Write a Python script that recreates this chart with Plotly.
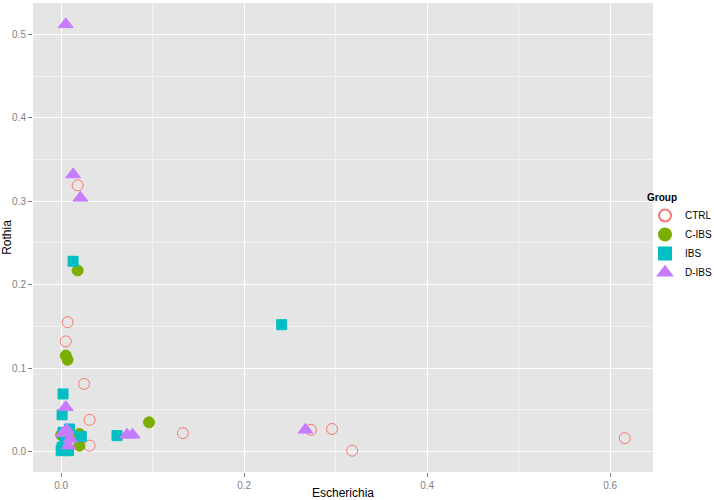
import plotly.graph_objects as go

# values
ctrl_x = [0.018, 0.007, 0.005, 0.025, 0.031, 0.031, 0.133, 0.273, 0.296, 0.318, 0.616, 0.003, 0.010, 0.001]
ctrl_y = [0.319, 0.155, 0.132, 0.081, 0.038, 0.007, 0.022, 0.026, 0.027, 0.001, 0.016, 0.006, 0.012, 0.020]

cibs_x = [0.018, 0.005, 0.007, 0.096, 0.020, 0.020, 0.000, 0.001, 0.018]
cibs_y = [0.217, 0.115, 0.110, 0.035, 0.021, 0.007, 0.020, 0.005, 0.016]

ibs_x = [0.013, 0.241, 0.002, 0.001, 0.061, 0.002, 0.009, 0.022, 0.001, 0.008, 0.004, 0.000]
ibs_y = [0.228, 0.152, 0.069, 0.044, 0.019, 0.023, 0.027, 0.018, 0.005, 0.001, 0.012, 0.001]

dibs_x = [0.005, 0.013, 0.021, 0.005, 0.267, 0.072, 0.078, 0.008, 0.002, 0.006, 0.010]
dibs_y = [0.512, 0.332, 0.304, 0.053, 0.026, 0.020, 0.020, 0.007, 0.022, 0.026, 0.015]

groups = [
    ("CTRL", ctrl_x, ctrl_y, "circle-open", "#F8766D", 11),
    ("C-IBS", cibs_x, cibs_y, "circle", "#7CAE00", 11),
    ("IBS", ibs_x, ibs_y, "square", "#00BFC4", 10),
    ("D-IBS", dibs_x, dibs_y, "triangle-up", "#C77CFF", 13),
]

fig = go.Figure()

for name, xs, ys, sym, col, sz in groups:
    fig.add_trace(go.Scatter(
        name=name,
        x=xs,
        y=ys,
        mode="markers",
        marker={'symbol': sym, 'color': col, 'size': sz,
                'line': {'color': col, 'width': 1}},
    ))

# ggplot style expansion of 5% on each side
all_x = ctrl_x + cibs_x + ibs_x + dibs_x
all_y = ctrl_y + cibs_y + ibs_y + dibs_y
dx = (max(all_x) - min(all_x)) * 0.05
dy = (max(all_y) - min(all_y)) * 0.05

axis_style = dict(
    automargin=False,
    showgrid=True,
    gridcolor="white",
    gridwidth=1.2,
    zeroline=False,
    showline=False,
    ticks="outside",
    ticklen=4,
    tickcolor="#7F7F7F",
    tickfont={'size': 10, 'color': "#7F7F7F"},
    minor={'showgrid': True, 'gridcolor': "#F2F2F2", 'gridwidth': 0.6},
)

fig.update_xaxes(
    title={'text': "Escherichia", 'font': {'size': 12, 'color': "black"}, 'standoff': 2},
    range=[min(all_x) - dx, max(all_x) + dx],
    dtick=0.2, tickformat=".1f",
    **axis_style
)
fig.update_xaxes(minor_dtick=0.1)
fig.update_yaxes(
    title={'text': "Rothia", 'font': {'size': 12, 'color': "black"}, 'standoff': 4},
    range=[min(all_y) - dy, max(all_y) + dy],
    dtick=0.1, tickformat=".1f",
    **axis_style
)
fig.update_yaxes(minor_dtick=0.05)

fig.update_layout(
    width=714,
    height=500,
    autosize=False,
    template="none",
    font={'family': "Liberation Sans, Arial, sans-serif", 'color': "black"},
    paper_bgcolor="white",
    plot_bgcolor="#E5E5E5",
    margin={'l': 33, 't': 3, 'b': 28, 'r': 61, 'pad': 0, 'autoexpand': False},
    showlegend=True,
    legend={
        'title': {'text': "<b>Group</b>", 'font': {'size': 10}},
        'font': {'size': 10},
        'xref': "container",
        'x': 645 / 714, 'xanchor': "left",
        'y': 0.5, 'yanchor': "middle",
        'itemsizing': "constant",
        'itemwidth': 30,
        'tracegroupgap': 0,
        'bgcolor': "rgba(0,0,0,0)",
    },
)

# drop the browser's default body margin so the 714x500 figure fills the window
fig.write_html("out.html", config={'displayModeBar': False},
               post_script="document.body.style.margin = '0';")
